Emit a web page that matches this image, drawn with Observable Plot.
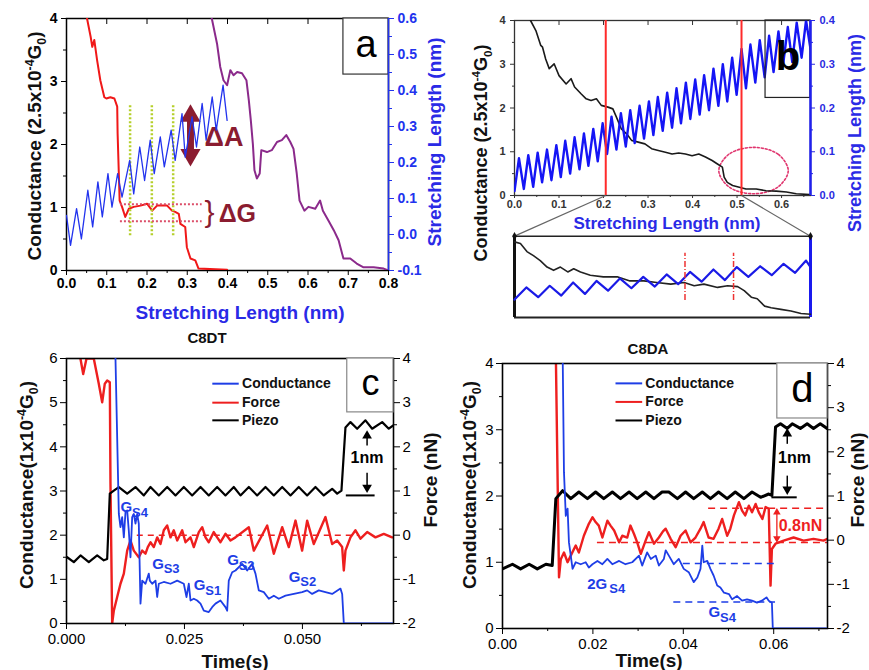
<!DOCTYPE html>
<html><head><meta charset="utf-8">
<script src="https://cdn.jsdelivr.net/npm/d3@7"></script>
<script src="https://cdn.jsdelivr.net/npm/@observablehq/plot@0.6"></script>
<style>
body{margin:0;background:#fff;font-family:"Liberation Sans",Arial,Helvetica,sans-serif}
#root{position:relative;width:869px;height:670px;overflow:hidden;background:#fff}
#root svg{position:absolute;left:0;top:0}
.lab{position:absolute;white-space:nowrap;font-weight:bold;line-height:1;transform:translate(-50%,-50%)}
.lab.rot{transform:translate(-50%,-50%) rotate(-90deg)}
.lab sup,.lab sub{font-size:65%}
</style></head><body><div id="root"></div>
<script>
// ================= DATA =================
// Panel a
const aXTicks=[0,0.1,0.2,0.3,0.4,0.5,0.6,0.7,0.8];
const aXMinor=[0.05,0.15,0.25,0.35,0.45,0.55,0.65,0.75];
const aYLTicks=[0,1,2,3,4];
const aYLMinor=[0.5,1.5,2.5,3.5];
const aYRTicks=[-0.1,0,0.1,0.2,0.3,0.4,0.5,0.6];
const aYRMinor=[-0.05,0.05,0.15,0.25,0.35,0.45,0.55];
const aRed=[[0.051,4.0],[0.060,3.71],[0.064,3.55],[0.069,3.66],[0.076,3.34],[0.084,3.02],[0.094,2.75],[0.099,2.73],[0.109,2.75],[0.119,2.73],[0.126,2.60],[0.127,2.17],[0.130,1.54],[0.132,1.11],[0.138,1.01],[0.146,0.85],[0.155,0.98],[0.167,1.01],[0.184,1.03],[0.200,1.06],[0.213,0.95],[0.225,1.03],[0.250,1.03],[0.262,0.95],[0.270,0.93],[0.279,0.90],[0.283,0.74],[0.295,0.69],[0.299,0.37],[0.308,0.19],[0.320,0.16],[0.328,0.03],[0.399,0.01]];
const aPurple=[[0.361,4.0],[0.374,3.60],[0.382,3.23],[0.390,3.02],[0.399,2.94],[0.407,3.18],[0.415,3.10],[0.424,3.15],[0.436,3.13],[0.447,3.02],[0.453,2.70],[0.458,2.38],[0.463,2.01],[0.467,1.59],[0.473,1.46],[0.480,1.54],[0.484,1.91],[0.498,1.88],[0.510,1.91],[0.523,2.04],[0.535,2.07],[0.546,2.15],[0.556,2.04],[0.564,1.93],[0.572,1.54],[0.579,1.11],[0.591,0.95],[0.601,1.01],[0.618,0.98],[0.630,1.11],[0.637,0.95],[0.651,0.79],[0.664,0.64],[0.676,0.48],[0.688,0.19],[0.705,0.19],[0.721,0.11],[0.738,0.05],[0.763,0.05],[0.788,0.03],[0.800,0.0]];
const aBlue=[[0,0.053],[0.010,-0.030],[0.025,0.072],[0.037,-0.012],[0.053,0.123],[0.065,0.021],[0.078,0.146],[0.089,0.049],[0.103,0.169],[0.113,0.076],[0.127,0.169],[0.138,0.104],[0.157,0.206],[0.167,0.113],[0.182,0.243],[0.194,0.150],[0.208,0.262],[0.218,0.169],[0.233,0.271],[0.243,0.188],[0.260,0.290],[0.270,0.206],[0.287,0.336],[0.295,0.215],[0.312,0.327],[0.323,0.243],[0.337,0.364],[0.347,0.262],[0.362,0.382],[0.372,0.290],[0.389,0.415],[0.399,0.317]];
const aGuideX=[0.158,0.212,0.265];
const aGuideRange=[0.55,2.62];
const aLevelY=[1.05,0.78];
const aLevelRange=[0.134,0.337];
const aArrowA={x:0.308,tipTop:2.62,tipBottom:1.67};
const aBox={x1:0.688,x2:0.8,y1:3.11,y2:4,label:"a"};

// Panel b
const bXTicks=[0,0.1,0.2,0.3,0.4,0.5,0.6];
const bXMinor=[0.05,0.15,0.25,0.35,0.45,0.55,0.65];
const bYLTicks=[0,1,2,3,4];
const bYLMinor=[0.5,1.5,2.5,3.5];
const bYRTicks=[0,0.1,0.2,0.3,0.4];
const bYRMinor=[0.05,0.15,0.25,0.35];
const bBlack=[[0.036,4.0],[0.048,3.77],[0.059,3.43],[0.063,3.39],[0.070,3.12],[0.078,2.90],[0.089,3.01],[0.100,2.74],[0.116,2.55],[0.127,2.67],[0.135,2.48],[0.150,2.32],[0.161,2.21],[0.172,2.17],[0.184,2.21],[0.195,2.06],[0.210,2.02],[0.221,1.98],[0.229,1.79],[0.240,1.52],[0.252,1.41],[0.263,1.26],[0.278,1.22],[0.293,1.18],[0.308,1.07],[0.323,1.03],[0.339,0.99],[0.354,0.95],[0.369,0.97],[0.384,0.95],[0.399,0.91],[0.414,0.95],[0.429,0.88],[0.444,0.80],[0.456,0.72],[0.467,0.65],[0.471,0.42],[0.478,0.30],[0.490,0.23],[0.505,0.19],[0.520,0.15],[0.543,0.15],[0.565,0.11],[0.588,0.10],[0.611,0.08],[0.633,0.04],[0.665,0.02]];
const bBlue=[[0.000,0.010],[0.010,0.085],[0.021,0.015],[0.031,0.092],[0.042,0.020],[0.052,0.098],[0.062,0.030],[0.073,0.105],[0.083,0.035],[0.094,0.115],[0.104,0.042],[0.114,0.125],[0.125,0.050],[0.135,0.133],[0.146,0.060],[0.156,0.142],[0.166,0.068],[0.177,0.152],[0.187,0.078],[0.198,0.165],[0.208,0.095],[0.218,0.180],[0.229,0.105],[0.239,0.188],[0.250,0.112],[0.260,0.195],[0.270,0.120],[0.281,0.205],[0.291,0.130],[0.302,0.215],[0.312,0.138],[0.322,0.225],[0.333,0.148],[0.343,0.235],[0.354,0.155],[0.364,0.245],[0.374,0.165],[0.385,0.258],[0.395,0.175],[0.406,0.265],[0.416,0.185],[0.426,0.275],[0.437,0.195],[0.447,0.290],[0.458,0.205],[0.468,0.300],[0.478,0.215],[0.489,0.315],[0.499,0.230],[0.510,0.335],[0.520,0.245],[0.530,0.345],[0.541,0.258],[0.551,0.355],[0.562,0.270],[0.572,0.365],[0.582,0.282],[0.593,0.375],[0.603,0.295],[0.614,0.385],[0.624,0.305],[0.634,0.395],[0.645,0.315],[0.655,0.400],[0.665,0.335]];
const bRedX=[0.205,0.51];
const bEllipse=[[0.615,0.57],[0.592,0.945],[0.537,1.10],[0.482,0.945],[0.459,0.57],[0.482,0.195],[0.537,0.04],[0.592,0.195]];
const bBox={x1:0.564,x2:0.665,y1:0.223,y2:0.4,label:"b"};
// inset (normalised zoom of the region between the red lines)
const insetBlack=[[0,0.93],[0.02,0.91],[0.042,0.81],[0.064,0.76],[0.087,0.70],[0.11,0.62],[0.132,0.58],[0.155,0.62],[0.18,0.56],[0.2,0.60],[0.223,0.56],[0.256,0.52],[0.3,0.50],[0.347,0.50],[0.39,0.45],[0.437,0.45],[0.48,0.43],[0.528,0.41],[0.573,0.43],[0.607,0.39],[0.64,0.41],[0.686,0.37],[0.72,0.39],[0.754,0.38],[0.776,0.33],[0.8,0.25],[0.82,0.23],[0.845,0.14],[0.867,0.12],[0.9,0.10],[0.934,0.08],[0.968,0.05],[1.0,0.04]];
const insetBlue=[[0,0.22],[0.04,0.37],[0.08,0.25],[0.119,0.39],[0.158,0.27],[0.198,0.43],[0.238,0.29],[0.277,0.45],[0.316,0.33],[0.356,0.48],[0.395,0.36],[0.435,0.50],[0.474,0.38],[0.514,0.53],[0.553,0.41],[0.593,0.56],[0.632,0.44],[0.672,0.59],[0.711,0.46],[0.751,0.62],[0.79,0.50],[0.83,0.63],[0.869,0.52],[0.909,0.66],[0.948,0.55],[0.985,0.70],[1.0,0.62]];
const insetMarks=[0.576,0.74];
const insetMarkRange=[0.21,0.79];

// Panel c
const cXTicks=[0,0.025,0.05];
const cXMinor=[0.0125,0.0375,0.0625];
const cYLTicks=[0,1,2,3,4,5,6];
const cYLMinor=[0.5,1.5,2.5,3.5,4.5,5.5];
const cYRTicks=[-2,-1,0,1,2,3,4];
const cYRMinor=[-1.5,-0.5,0.5,1.5,2.5,3.5];
const cConductance=[[0.01038,6.0],[0.01109,2.48],[0.01144,2.18],[0.0118,2.41],[0.01215,1.95],[0.0125,2.52],[0.01286,2.56],[0.0132,2.11],[0.01356,1.50],[0.01392,2.41],[0.01426,2.48],[0.01462,2.26],[0.01498,2.48],[0.01532,2.26],[0.01568,0.45],[0.01604,0.97],[0.01674,0.90],[0.01744,1.13],[0.01765,0.97],[0.01816,0.90],[0.01886,0.97],[0.01922,0.60],[0.01956,0.90],[0.02062,0.94],[0.02204,0.90],[0.02346,0.97],[0.02486,0.90],[0.02543,0.60],[0.02592,0.90],[0.02628,0.52],[0.02698,0.56],[0.02769,0.52],[0.0284,0.45],[0.0291,0.29],[0.03015,0.26],[0.03087,0.37],[0.03157,0.45],[0.03263,0.52],[0.03369,0.37],[0.03405,0.29],[0.03439,0.97],[0.03511,1.16],[0.03581,1.20],[0.03723,1.35],[0.03829,1.20],[0.03935,1.35],[0.04005,1.13],[0.04075,0.75],[0.04181,0.71],[0.04287,0.56],[0.04394,0.63],[0.04499,0.56],[0.04641,0.63],[0.04818,0.67],[0.04994,0.71],[0.051,0.75],[0.05206,0.67],[0.05347,0.75],[0.05488,0.71],[0.0563,0.67],[0.05806,0.79],[0.05842,0.67],[0.05877,0.0],[0.0693,0.0]];
const cForce=[[0.00297,3.99],[0.00354,3.65],[0.00424,4.0],[0.00578,4.0],[0.00684,3.43],[0.00756,3.01],[0.00812,3.43],[0.00862,3.50],[0.00918,3.46],[0.00932,1.17],[0.00968,-2.0],[0.01003,-1.71],[0.01074,-1.40],[0.01144,-1.10],[0.01215,-0.87],[0.01286,-0.35],[0.01356,-0.12],[0.01426,-0.35],[0.01532,-0.50],[0.01604,-0.35],[0.01674,-0.42],[0.01723,-0.27],[0.0178,-0.16],[0.0185,-0.27],[0.01922,-0.05],[0.01992,-0.20],[0.02062,0.11],[0.02134,0.22],[0.02204,-0.05],[0.02274,0.11],[0.02346,-0.12],[0.02452,0.11],[0.02522,-0.16],[0.02628,-0.05],[0.02698,-0.27],[0.02804,0.07],[0.02876,0.18],[0.02946,-0.05],[0.03015,-0.16],[0.03121,0.07],[0.03193,-0.05],[0.03263,-0.16],[0.03369,0.03],[0.03475,-0.12],[0.03581,-0.05],[0.03864,0.18],[0.0397,-0.35],[0.04253,0.22],[0.04394,-0.42],[0.04571,0.18],[0.04711,-0.27],[0.04853,0.33],[0.04994,-0.35],[0.051,0.33],[0.0524,-0.20],[0.05488,0.41],[0.0563,-0.20],[0.05736,-0.12],[0.05842,-0.27],[0.05877,-0.80],[0.05912,-0.35],[0.06018,-0.05],[0.06124,0.11],[0.0623,-0.08],[0.06372,0.07],[0.06548,-0.05],[0.06724,0.03],[0.06901,-0.05]];
const cPiezo=[[0.00014,1.50],[0.00155,1.39],[0.00297,1.54],[0.00473,1.39],[0.0065,1.54],[0.0079,1.43],[0.00862,1.46],[0.00918,2.94],[0.01003,3.01],[0.01109,3.09],[0.01286,2.94],[0.01462,3.09],[0.01639,2.90],[0.0178,3.09],[0.01956,2.90],[0.02134,3.09],[0.0231,2.90],[0.02486,3.09],[0.02663,2.90],[0.0284,3.09],[0.03015,2.90],[0.03193,3.09],[0.03369,2.90],[0.03545,3.09],[0.03687,2.90],[0.03864,3.09],[0.0404,2.90],[0.04217,3.09],[0.04394,2.90],[0.04571,3.09],[0.04747,2.90],[0.04922,3.09],[0.051,2.90],[0.05276,3.09],[0.05452,2.90],[0.0563,3.05],[0.05736,2.94],[0.05827,3.01],[0.05912,4.44],[0.06018,4.56],[0.0616,4.41],[0.06336,4.60],[0.06478,4.41],[0.0669,4.56],[0.0683,4.41],[0.0697,4.52]];
const cForceRef={y:0,x1:0.015,x2:0.062};
const cLegend=[{name:"Conductance",color:"#1e3ee6",y:5.43},{name:"Force",color:"#ee1f1f",y:5.0},{name:"Piezo",color:"#000",y:4.6}];
const cLegendX=[0.0309,0.0365,0.0372];
const cStep={x:0.0637,top:4.25,bottom:3.08,gapTop:4.02,gapBottom:3.4,text:3.74,barY:2.9,bar:[0.0593,0.0654]};
const cLabels=[{x:0.01144,y:2.63,pre:"G",sub:"S4"},{x:0.01816,y:1.35,pre:"G",sub:"S3"},{x:0.02698,y:0.86,pre:"G",sub:"S1"},{x:0.03405,y:1.43,pre:"G",sub:"S3"},{x:0.0471,y:1.05,pre:"G",sub:"S2"}];
const cBox={x1:0.0595,x2:0.0693,y1:4.78,y2:6,label:"c"};

// Panel d
const dXTicks=[0,0.02,0.04,0.06];
const dXMinor=[0.01,0.03,0.05,0.07];
const dYLTicks=[0,1,2,3,4];
const dYLMinor=[0.5,1.5,2.5,3.5];
const dYRTicks=[-2,-1,0,1,2,3,4];
const dYRMinor=[-1.5,-0.5,0.5,1.5,2.5,3.5];
const dConductance=[[0.0133,4.2],[0.0136,2.36],[0.014,1.70],[0.0144,1.81],[0.0147,1.30],[0.0151,1.10],[0.0155,0.90],[0.0162,1.00],[0.0173,0.97],[0.0184,1.00],[0.0191,0.92],[0.0199,0.97],[0.021,1.02],[0.0221,0.97],[0.0232,1.05],[0.0243,0.97],[0.0258,1.02],[0.0272,0.97],[0.0287,1.00],[0.0302,1.10],[0.0309,0.95],[0.032,1.15],[0.0328,1.05],[0.0339,1.10],[0.0346,0.95],[0.0357,1.05],[0.0361,1.18],[0.0368,1.10],[0.0379,0.97],[0.039,1.05],[0.0401,0.90],[0.0412,0.85],[0.0423,0.70],[0.0431,0.77],[0.0438,0.90],[0.0442,1.25],[0.0445,1.00],[0.0453,1.02],[0.046,0.90],[0.0467,0.80],[0.0475,0.65],[0.0482,0.62],[0.049,0.54],[0.0501,0.52],[0.0508,0.44],[0.0519,0.49],[0.053,0.42],[0.0541,0.44],[0.0552,0.42],[0.0563,0.39],[0.0574,0.42],[0.0584,0.47],[0.0589,0.42],[0.0596,0.39],[0.0598,0.0],[0.0719,0.0]];
const dForce=[[0.0118,4.2],[0.0125,-0.84],[0.0129,-0.43],[0.0136,-0.28],[0.0144,-0.50],[0.0151,-0.35],[0.0162,-0.12],[0.0169,-0.28],[0.018,0.10],[0.0191,0.37],[0.0199,0.52],[0.0206,0.41],[0.0213,0.33],[0.0221,0.06],[0.0232,0.44],[0.0239,0.33],[0.0247,0.22],[0.0258,-0.05],[0.0265,0.10],[0.0276,0.06],[0.0283,0.33],[0.0291,0.14],[0.0298,-0.05],[0.0306,-0.31],[0.0317,0],[0.0324,0.18],[0.0335,-0.08],[0.0346,0.06],[0.0355,0.2],[0.0361,0.26],[0.0372,0.03],[0.0383,-0.16],[0.0394,0.10],[0.0405,0.22],[0.0416,-0.05],[0.0427,0.06],[0.0438,0.26],[0.0445,0.41],[0.0456,0.06],[0.0467,0.03],[0.0478,0.26],[0.0486,0.48],[0.0497,0.10],[0.0504,0.26],[0.0512,0.56],[0.0523,0.86],[0.053,0.67],[0.0537,0.56],[0.0545,0.78],[0.0552,0.63],[0.056,0.82],[0.0567,0.63],[0.0575,0.48],[0.0582,0.75],[0.0589,0.71],[0.0593,-1.03],[0.0596,-0.20],[0.0604,-0.08],[0.0622,-0.01],[0.0644,0.06],[0.0666,-0.01],[0.0688,0.03],[0.071,-0.01],[0.0719,0.03]];
const dPiezo=[[0,0.90],[0.0022,0.97],[0.004,0.90],[0.0059,0.97],[0.0077,0.90],[0.0096,0.97],[0.011,0.95],[0.0118,1.96],[0.0133,2.08],[0.0151,1.96],[0.0169,2.06],[0.0188,1.96],[0.0206,2.06],[0.0224,1.96],[0.0243,2.06],[0.0261,1.96],[0.028,2.06],[0.0298,1.96],[0.0317,2.06],[0.0335,1.96],[0.0353,2.06],[0.0368,2.06],[0.0387,1.96],[0.0405,2.06],[0.0423,1.96],[0.0442,2.06],[0.046,1.96],[0.0478,2.06],[0.0497,1.96],[0.0515,2.06],[0.0534,1.96],[0.0552,2.06],[0.0571,1.98],[0.0589,2.03],[0.0596,2.01],[0.0604,3.04],[0.0615,3.09],[0.063,3.02],[0.0641,3.09],[0.0659,3.02],[0.0674,3.09],[0.0688,3.02],[0.0703,3.09],[0.0718,3.02]];
const dForceLevels=[{y:-0.05,x1:0.021,x2:0.0719},{y:0.72,x1:0.0456,x2:0.0719}];
const dCondLevels=[{y:0.98,x1:0.040,x2:0.0604},{y:0.40,x1:0.0379,x2:0.0604}];
const dForceArrow={x:0.0607,top:0.63,bottom:0.04,text:"0.8nN",tx:0.0611,ty:0.33};
const dLegend=[{name:"Conductance",color:"#1e3ee6",y:3.70},{name:"Force",color:"#ee1f1f",y:3.42},{name:"Piezo",color:"#000",y:3.14}];
const dLegendX=[0.025,0.0309,0.0316];
const dStep={x:0.063,top:2.94,bottom:2.10,gapTop:2.78,gapBottom:2.30,text:2.57,tx:0.0646,barY:1.98,bar:[0.0596,0.0652]};
const dLabels=[{x:0.01875,y:0.67,pre:"2G",sub:"S4"},{x:0.0456,y:0.24,pre:"G",sub:"S4"}];
const dBox={x1:0.0608,x2:0.0719,y1:3.17,y2:4,label:"d"};

// ================= DRAWING =================
const FONT='"Liberation Sans", Arial, Helvetica, sans-serif';
const W=869,H=670;
const root=document.getElementById("root");
const pts=a=>a.map(([x,y])=>({x,y}));
const blank=()=>"";
const int=d=>String(d);
const one=d=>d.toFixed(1);
const RED="#f01818",BLUE="#2233ee",PURPLE="#8b2a8b",DARKRED="#8b1c30",OLIVE="#b5cf2a",PINK="#dc4f6a";
const CBLUE="#1e3ee6",CRED="#ee1f1f";
function base(f){return {width:W,height:H,marginLeft:f.l,marginRight:W-f.r,marginTop:f.t,marginBottom:H-f.b,
  style:{background:"transparent",fontFamily:FONT,overflow:"visible"}};}
function place(svg){root.appendChild(svg);}
function boxMarks(b,size,weight,stroke,fill="white"){
  return [Plot.rect([b],{x1:"x1",x2:"x2",y1:"y1",y2:"y2",fill:fill,stroke:stroke,strokeWidth:1.2}),
    Plot.text([b],{x:d=>(d.x1+d.x2)/2,y:d=>(d.y1+d.y2)/2,text:"label",fontSize:size,fontWeight:weight,fill:"#000",dy:-2})];
}
function triUp(x,y,r,fill){return Plot.dot([{x,y}],{x:"x",y:"y",symbol:"triangle",r,fill,stroke:"none"});}
function triDown(x,y,r,fill){return Plot.dot([{x,y}],{x:"x",y:"y",symbol:"triangle",r,fill,stroke:"none",rotate:180});}
function subLabels(list,color){
  const m=[];
  for(const l of list){
    m.push(Plot.text([l],{x:"x",y:"y",text:"pre",textAnchor:"start",fontSize:15,fontWeight:"bold",fill:color}));
    m.push(Plot.text([l],{x:"x",y:"y",text:"sub",textAnchor:"start",fontSize:13,fontWeight:"bold",fill:color,dx:l.pre.length*10.5+1,dy:5}));
  }
  return m;
}

// ---- Panel a ----
const FA={l:66,r:388,t:18,b:270};
place(Plot.plot({...base(FA),x:{domain:[0,0.8]},y:{domain:[0,4]},marks:[
  Plot.axisX({ticks:aXTicks,tickFormat:one,label:null,fontSize:14,fontWeight:"bold",tickSize:5,tickPadding:3}),
  Plot.axisX({ticks:aXMinor,tickFormat:blank,label:null,tickSize:3}),
  Plot.axisX({ticks:aXTicks,anchor:"top",tickFormat:blank,label:null,tickSize:-5}),
  Plot.axisY({ticks:aYLTicks,tickFormat:int,label:null,fontSize:14,fontWeight:"bold",tickSize:5}),
  Plot.axisY({ticks:aYLMinor,tickFormat:blank,label:null,tickSize:3}),
  Plot.frame({stroke:"#000",strokeWidth:1.5}),
  Plot.line(pts(aPurple),{x:"x",y:"y",stroke:PURPLE,strokeWidth:2,clip:true}),
  Plot.line(pts(aRed),{x:"x",y:"y",stroke:RED,strokeWidth:2,clip:true}),
  Plot.ruleX(aGuideX,{y1:aGuideRange[0],y2:aGuideRange[1],stroke:OLIVE,strokeWidth:2.5,strokeDasharray:"2,2"}),
  Plot.ruleY(aLevelY,{x1:aLevelRange[0],x2:aLevelRange[1],stroke:PINK,strokeWidth:2,strokeDasharray:"2,2"}),
  Plot.ruleX([aArrowA.x],{y1:1.84,y2:2.45,stroke:DARKRED,strokeWidth:7}),
  triUp(aArrowA.x,2.454,7.5,DARKRED),
  triDown(aArrowA.x,1.835,7.5,DARKRED),
  Plot.text([{x:0.343,y:2.11,t:"ΔA"}],{x:"x",y:"y",text:"t",textAnchor:"start",fontSize:27,fontWeight:"bold",fill:DARKRED}),
  Plot.text([{x:0.343,y:0.92,t:"}"}],{x:"x",y:"y",text:"t",textAnchor:"start",fontSize:30,fill:DARKRED}),
  Plot.text([{x:0.378,y:0.9,t:"ΔG"}],{x:"x",y:"y",text:"t",textAnchor:"start",fontSize:25,fontWeight:"bold",fill:DARKRED}),
  ...boxMarks(aBox,38,"normal","#333")
]}));
place(Plot.plot({...base(FA),x:{domain:[0,0.8],axis:null},y:{domain:[-0.1,0.6]},marks:[
  Plot.axisY({anchor:"right",ticks:aYRTicks,tickFormat:one,label:null,fontSize:14,fontWeight:"bold",color:BLUE,tickSize:5}),
  Plot.axisY({anchor:"right",ticks:aYRMinor,tickFormat:blank,label:null,color:BLUE,tickSize:3}),
  Plot.ruleX([0.8],{stroke:BLUE,strokeWidth:1.5}),
  Plot.line(pts(aBlue),{x:"x",y:"y",stroke:BLUE,strokeWidth:1.3,clip:true})
]}));

// ---- Panel b ----
const FB={l:514,r:810,t:20,b:195};
const bXMax=0.665;
place(Plot.plot({...base(FB),x:{domain:[0,bXMax]},y:{domain:[0,4]},marks:[
  Plot.axisX({ticks:bXTicks,tickFormat:one,label:null,fontSize:11,fontWeight:"bold",color:"#333",tickSize:3,tickPadding:2}),
  Plot.axisX({ticks:bXMinor,tickFormat:blank,label:null,tickSize:2,color:"#333"}),
  Plot.axisX({ticks:bXTicks,anchor:"top",tickFormat:blank,label:null,tickSize:-4,color:"#333"}),
  Plot.axisY({ticks:bYLTicks,tickFormat:int,label:null,fontSize:11,fontWeight:"bold",color:"#333",tickSize:4}),
  Plot.axisY({ticks:bYLMinor,tickFormat:blank,label:null,tickSize:2,color:"#333"}),
  Plot.frame({stroke:"#333",strokeWidth:1.3}),
  Plot.line(pts(bEllipse),{x:"x",y:"y",curve:"catmull-rom-closed",stroke:"#e0356e",strokeWidth:1.6,strokeDasharray:"2,2"}),
  Plot.line(pts(bBlack),{x:"x",y:"y",stroke:"#1a1a1a",strokeWidth:1.6,clip:true})
]}));
place(Plot.plot({...base(FB),x:{domain:[0,bXMax],axis:null},y:{domain:[0,0.4]},marks:[
  Plot.axisY({anchor:"right",ticks:bYRTicks,tickFormat:one,label:null,fontSize:11,fontWeight:"bold",color:"#2a2ae0",tickSize:4}),
  Plot.axisY({anchor:"right",ticks:bYRMinor,tickFormat:blank,label:null,color:"#2a2ae0",tickSize:2}),
  Plot.line(pts(bBlue),{x:"x",y:"y",stroke:"#1515f5",strokeWidth:2.4,clip:true}),
  Plot.ruleX(bRedX,{stroke:"#ff2a2a",strokeWidth:2}),
  ...boxMarks(bBox,40,"bold","#222","none"),
  Plot.ruleX([bXMax],{stroke:"#2020ee",strokeWidth:2.5})
]}));
// inset
const FI={l:514,r:810,t:195,b:317};
const fx=v=>v/bXMax;
place(Plot.plot({...base(FI),x:{domain:[0,1],axis:null},y:{domain:[0,1.5],axis:null},marks:[
  Plot.link([{x1:fx(bRedX[0]),y1:1.5,x2:0,y2:1},{x1:fx(bRedX[1]),y1:1.5,x2:1,y2:1}],{x1:"x1",y1:"y1",x2:"x2",y2:"y2",stroke:"#666",strokeWidth:1.2}),
  Plot.ruleY([1],{x1:0,x2:1,stroke:"#222",strokeWidth:1.5}),
  Plot.ruleY([0],{x1:0,x2:1,stroke:"#222",strokeWidth:2}),
  Plot.ruleX([0],{y1:0,y2:1,stroke:"#111",strokeWidth:3}),
  Plot.ruleX([1],{y1:0,y2:1,stroke:"#1a1aee",strokeWidth:3}),
  Plot.dot([{x:0,y:1},{x:1,y:1}],{x:"x",y:"y",r:2.5,fill:"#111",symbol:"diamond"}),
  Plot.line(pts(insetBlack),{x:"x",y:"y",stroke:"#222",strokeWidth:1.6}),
  Plot.line(pts(insetBlue),{x:"x",y:"y",stroke:"#1a1ae6",strokeWidth:2.2}),
  Plot.ruleX(insetMarks,{y1:insetMarkRange[0],y2:insetMarkRange[1],stroke:"#ee3333",strokeWidth:1.5,strokeDasharray:"6,2,1,2"})
]}));

// ---- Panel c ----
const FC={l:66,r:393,t:358,b:623};
place(Plot.plot({...base(FC),x:{domain:[0,0.0693],axis:null},y:{domain:[-2,4]},marks:[
  Plot.axisY({anchor:"right",ticks:cYRTicks,tickFormat:int,label:null,fontSize:15,color:"#000",tickSize:6}),
  Plot.axisY({anchor:"right",ticks:cYRMinor,tickFormat:blank,label:null,tickSize:3}),
  Plot.line(pts(cForce),{x:"x",y:"y",stroke:CRED,strokeWidth:2.4,clip:true}),
  Plot.ruleY([cForceRef.y],{x1:cForceRef.x1,x2:cForceRef.x2,stroke:CRED,strokeWidth:1.5,strokeDasharray:"6,5"})
]}));
place(Plot.plot({...base(FC),x:{domain:[0,0.0693]},y:{domain:[0,6]},marks:[
  Plot.axisX({ticks:cXTicks,tickFormat:d=>d.toFixed(3),label:null,fontSize:15,tickSize:6,tickPadding:4}),
  Plot.axisX({ticks:cXMinor,tickFormat:blank,label:null,tickSize:3}),
  Plot.axisY({ticks:cYLTicks,tickFormat:int,label:null,fontSize:15,tickSize:6}),
  Plot.axisY({ticks:cYLMinor,tickFormat:blank,label:null,tickSize:3}),
  Plot.frame({stroke:"#000",strokeWidth:1.6}),
  Plot.line(pts(cPiezo),{x:"x",y:"y",stroke:"#000",strokeWidth:2.2,clip:true}),
  Plot.line(pts(cConductance),{x:"x",y:"y",stroke:CBLUE,strokeWidth:1.8,clip:true}),
  Plot.link(cLegend,{x1:()=>cLegendX[0],x2:()=>cLegendX[1],y1:"y",y2:"y",stroke:"color",strokeWidth:2}),
  Plot.text(cLegend,{x:()=>cLegendX[2],y:"y",text:"name",textAnchor:"start",fontSize:14,fontWeight:"bold",fill:"#111"}),
  Plot.ruleY([cStep.barY],{x1:cStep.bar[0],x2:cStep.bar[1],stroke:"#000",strokeWidth:2}),
  Plot.ruleX([cStep.x],{y1:cStep.gapTop,y2:cStep.top,stroke:"#000",strokeWidth:1.5}),
  Plot.ruleX([cStep.x],{y1:cStep.bottom,y2:cStep.gapBottom,stroke:"#000",strokeWidth:1.5}),
  triUp(cStep.x,cStep.top,3.6,"#000"),
  triDown(cStep.x,cStep.bottom,3.6,"#000"),
  Plot.text([{x:cStep.x,y:cStep.text,t:"1nm"}],{x:"x",y:"y",text:"t",fontSize:16,fontWeight:"bold",fill:"#000"}),
  ...subLabels(cLabels,CBLUE),
  ...boxMarks(cBox,36,"normal","#888")
]}));

// ---- Panel d ----
const FD={l:502,r:827,t:363,b:628};
place(Plot.plot({...base(FD),x:{domain:[0,0.0719],axis:null},y:{domain:[-2,4]},marks:[
  Plot.axisY({anchor:"right",ticks:dYRTicks,tickFormat:int,label:null,fontSize:15,color:"#000",tickSize:6}),
  Plot.axisY({anchor:"right",ticks:dYRMinor,tickFormat:blank,label:null,tickSize:3}),
  Plot.line(pts(dForce),{x:"x",y:"y",stroke:CRED,strokeWidth:2.4,clip:true}),
  Plot.ruleY(dForceLevels,{y:"y",x1:"x1",x2:"x2",stroke:CRED,strokeWidth:1.5,strokeDasharray:"7,5"}),
  Plot.ruleX([dForceArrow.x],{y1:dForceArrow.bottom,y2:dForceArrow.top,stroke:CRED,strokeWidth:1.3}),
  triUp(dForceArrow.x,dForceArrow.top,2.8,CRED),
  triDown(dForceArrow.x,dForceArrow.bottom,2.8,CRED),
  Plot.text([dForceArrow],{x:"tx",y:"ty",text:"text",textAnchor:"start",fontSize:16,fontWeight:"bold",fill:CRED})
]}));
place(Plot.plot({...base(FD),x:{domain:[0,0.0719]},y:{domain:[0,4]},marks:[
  Plot.axisX({ticks:dXTicks,tickFormat:d=>d.toFixed(2),label:null,fontSize:15,tickSize:6,tickPadding:4}),
  Plot.axisX({ticks:dXMinor,tickFormat:blank,label:null,tickSize:3}),
  Plot.axisY({ticks:dYLTicks,tickFormat:int,label:null,fontSize:15,tickSize:6}),
  Plot.axisY({ticks:dYLMinor,tickFormat:blank,label:null,tickSize:3}),
  Plot.frame({stroke:"#000",strokeWidth:1.6}),
  Plot.line(pts(dPiezo),{x:"x",y:"y",stroke:"#000",strokeWidth:3,clip:true}),
  Plot.line(pts(dConductance),{x:"x",y:"y",stroke:CBLUE,strokeWidth:1.8,clip:true}),
  Plot.ruleY(dCondLevels,{y:"y",x1:"x1",x2:"x2",stroke:CBLUE,strokeWidth:1.5,strokeDasharray:"7,5"}),
  Plot.link(dLegend,{x1:()=>dLegendX[0],x2:()=>dLegendX[1],y1:"y",y2:"y",stroke:"color",strokeWidth:2}),
  Plot.text(dLegend,{x:()=>dLegendX[2],y:"y",text:"name",textAnchor:"start",fontSize:14,fontWeight:"bold",fill:"#111"}),
  Plot.ruleY([dStep.barY],{x1:dStep.bar[0],x2:dStep.bar[1],stroke:"#000",strokeWidth:2}),
  Plot.ruleX([dStep.x],{y1:dStep.gapTop,y2:dStep.top,stroke:"#000",strokeWidth:1.5}),
  Plot.ruleX([dStep.x],{y1:dStep.bottom,y2:dStep.gapBottom,stroke:"#000",strokeWidth:1.5}),
  triUp(dStep.x,dStep.top,3.6,"#000"),
  triDown(dStep.x,dStep.bottom,3.6,"#000"),
  Plot.text([{x:dStep.tx,y:dStep.text,t:"1nm"}],{x:"x",y:"y",text:"t",fontSize:16,fontWeight:"bold",fill:"#000"}),
  ...subLabels(dLabels,CBLUE),
  ...boxMarks(dBox,40,"normal","#888")
]}));

// ---- HTML titles ----
const TBLUE="#2a2ae6";
const htmlLabels=[
 {html:'Conductance (2.5x10<sup>-4</sup>G<sub>0</sub>)',x:36,y:146,size:19,rot:true},
 {html:'Stretching Length (nm)',x:434,y:142,size:19,color:TBLUE,rot:true},
 {html:'Stretching Length (nm)',x:240,y:312,size:19,color:TBLUE},
 {html:'C8DT',x:207,y:337,size:15},
 {html:'Conductance (2.5x10<sup>-4</sup>G<sub>0</sub>)',x:482,y:153,size:18,rot:true},
 {html:'Stretching Length (nm)',x:855,y:133,size:18,color:TBLUE,rot:true},
 {html:'Stretching Length (nm)',x:667,y:223,size:17,color:TBLUE},
 {html:'Conductance(1x10<sup>-4</sup>G<sub>0</sub>)',x:28,y:485,size:19,rot:true},
 {html:'Force (nN)',x:430,y:480,size:19,rot:true},
 {html:'Time(s)',x:235,y:661,size:19},
 {html:'C8DA',x:648,y:348,size:15},
 {html:'Conductance(1x10<sup>-4</sup>G<sub>0</sub>)',x:471,y:485,size:19,rot:true},
 {html:'Force (nN)',x:857,y:480,size:19,rot:true},
 {html:'Time(s)',x:649,y:660,size:19}
];
for(const l of htmlLabels){
  const d=document.createElement("div");
  d.className="lab"+(l.rot?" rot":"");
  d.innerHTML=l.html;
  d.style.left=l.x+"px";d.style.top=l.y+"px";d.style.fontSize=l.size+"px";d.style.color=l.color||"#111";
  root.appendChild(d);
}
</script></body></html>
